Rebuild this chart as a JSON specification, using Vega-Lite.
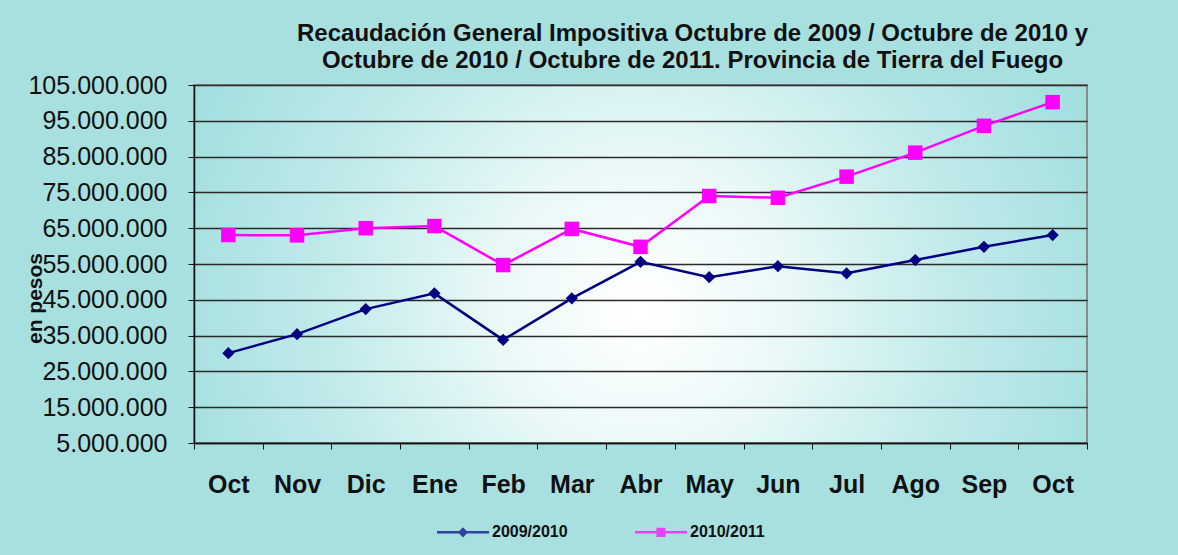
{
  "$schema": "https://vega.github.io/schema/vega-lite/v6.json",
  "autosize": "none",
  "width": 893,
  "height": 358,
  "padding": {"left": 194, "top": 85, "right": 91, "bottom": 112},
  "background": "#a8e0e0",
  "title": {
    "text": ["Recaudación General Impositiva  Octubre de 2009 / Octubre de 2010  y", "Octubre de 2010 / Octubre de 2011. Provincia de Tierra del Fuego"],
    "font": "Liberation Sans",
    "fontSize": 24,
    "fontWeight": "bold",
    "color": "#111111",
    "lineHeight": 27,
    "anchor": "middle",
    "frame": "group",
    "dx": 52,
    "offset": 0
  },
  "data": {
    "values": [
      {"mes": "Oct-09", "serie": "2009/2010", "valor": 30100000},
      {"mes": "Nov-09", "serie": "2009/2010", "valor": 35400000},
      {"mes": "Dic-09", "serie": "2009/2010", "valor": 42400000},
      {"mes": "Ene-10", "serie": "2009/2010", "valor": 46800000},
      {"mes": "Feb-10", "serie": "2009/2010", "valor": 33800000},
      {"mes": "Mar-10", "serie": "2009/2010", "valor": 45400000},
      {"mes": "Abr-10", "serie": "2009/2010", "valor": 55600000},
      {"mes": "May-10", "serie": "2009/2010", "valor": 51300000},
      {"mes": "Jun-10", "serie": "2009/2010", "valor": 54400000},
      {"mes": "Jul-10", "serie": "2009/2010", "valor": 52400000},
      {"mes": "Ago-10", "serie": "2009/2010", "valor": 56100000},
      {"mes": "Sep-10", "serie": "2009/2010", "valor": 59800000},
      {"mes": "Oct-10", "serie": "2009/2010", "valor": 63100000},
      {"mes": "Oct-09", "serie": "2010/2011", "valor": 63100000},
      {"mes": "Nov-09", "serie": "2010/2011", "valor": 63000000},
      {"mes": "Dic-09", "serie": "2010/2011", "valor": 65000000},
      {"mes": "Ene-10", "serie": "2010/2011", "valor": 65600000},
      {"mes": "Feb-10", "serie": "2010/2011", "valor": 54700000},
      {"mes": "Mar-10", "serie": "2010/2011", "valor": 64800000},
      {"mes": "Abr-10", "serie": "2010/2011", "valor": 59800000},
      {"mes": "May-10", "serie": "2010/2011", "valor": 74000000},
      {"mes": "Jun-10", "serie": "2010/2011", "valor": 73500000},
      {"mes": "Jul-10", "serie": "2010/2011", "valor": 79400000},
      {"mes": "Ago-10", "serie": "2010/2011", "valor": 86100000},
      {"mes": "Sep-10", "serie": "2010/2011", "valor": 93600000},
      {"mes": "Oct-10", "serie": "2010/2011", "valor": 100200000}
    ]
  },
  "encoding": {
    "x": {
      "field": "mes",
      "type": "nominal",
      "sort": ["Oct-09", "Nov-09", "Dic-09", "Ene-10", "Feb-10", "Mar-10", "Abr-10", "May-10", "Jun-10", "Jul-10", "Ago-10", "Sep-10", "Oct-10"],
      "scale": {"type": "band", "paddingInner": 0, "paddingOuter": 0},
      "axis": {
        "title": null,
        "labelAngle": 0,
        "labelExpr": "split(datum.label, '-')[0]",
        "labelFont": "Liberation Sans",
        "labelFontSize": 25,
        "labelFontWeight": "bold",
        "labelColor": "#111111",
        "labelPadding": 23,
        "tickBand": "extent",
        "tickSize": 6,
        "tickColor": "#111111",
        "domainColor": "#111111",
        "domainWidth": 1.5,
        "grid": false
      }
    },
    "y": {
      "field": "valor",
      "type": "quantitative",
      "scale": {"domain": [5000000, 105000000], "nice": false, "zero": false},
      "axis": {
        "title": "en pesos",
        "titleFont": "Liberation Sans",
        "titleFontSize": 21,
        "titleFontWeight": "bold",
        "titleColor": "#111111",
        "titleX": -159,
        "titleY": 213,
        "titleAlign": "center",
        "titleBaseline": "middle",
        "values": [5000000, 15000000, 25000000, 35000000, 45000000, 55000000, 65000000, 75000000, 85000000, 95000000, 105000000],
        "labelExpr": "replace(replace(format(datum.value, ',d'), ',', '.'), ',', '.')",
        "labelFont": "Liberation Sans",
        "labelFontSize": 25,
        "labelColor": "#111111",
        "labelPadding": 21,
        "tickSize": 6,
        "tickColor": "#111111",
        "domainColor": "#111111",
        "domainWidth": 1.5,
        "grid": true,
        "gridColor": "#2a2a2a",
        "gridWidth": 1.5
      }
    }
  },
  "layer": [
    {
      "mark": {"type": "point", "filled": false, "size": 0, "strokeWidth": 2.5},
      "encoding": {
        "color": {
          "field": "serie",
          "type": "nominal",
          "scale": {"domain": ["2009/2010", "2010/2011"], "range": ["#000080", "#ff00ff"]},
          "legend": {
            "title": null,
            "orient": "none",
            "legendX": 261,
            "legendY": 439,
            "direction": "horizontal",
            "symbolSize": 144,
            "symbolStrokeWidth": 2.5,
            "labelOffset": 21,
            "columnPadding": 62,
            "labelFont": "Liberation Sans",
            "labelFontSize": 16,
            "labelFontWeight": "bold",
            "labelColor": "#111111"
          }
        },
        "shape": {
          "field": "serie",
          "type": "nominal",
          "scale": {"domain": ["2009/2010", "2010/2011"], "range": ["M-4.33,0L4.33,0M0,-0.55L0.55,0L0,0.55L-0.55,0Z", "M-4.33,0L4.33,0M-0.55,-0.55L0.55,-0.55L0.55,0.55L-0.55,0.55Z"]},
          "legend": {
            "title": null,
            "orient": "none",
            "legendX": 261,
            "legendY": 439,
            "direction": "horizontal",
            "symbolSize": 144,
            "symbolStrokeWidth": 2.5,
            "labelOffset": 21,
            "columnPadding": 62,
            "labelFont": "Liberation Sans",
            "labelFontSize": 16,
            "labelFontWeight": "bold",
            "labelColor": "#111111"
          }
        }
      }
    },
    {
      "mark": {"type": "line", "strokeWidth": 2.5},
      "encoding": {"color": {"field": "serie", "type": "nominal"}}
    },
    {
      "transform": [{"filter": "datum.serie === '2009/2010'"}],
      "mark": {"type": "point", "filled": true, "opacity": 1, "shape": "diamond", "size": 150},
      "encoding": {"color": {"field": "serie", "type": "nominal"}}
    },
    {
      "transform": [{"filter": "datum.serie === '2010/2011'"}],
      "mark": {"type": "point", "filled": true, "opacity": 1, "shape": "square", "size": 210},
      "encoding": {"color": {"field": "serie", "type": "nominal"}}
    }
  ],
  "config": {
    "view": {
      "stroke": "#8a8a8a",
      "strokeWidth": 2,
      "fill": {
        "gradient": "radial",
        "x1": 0.5, "y1": 0.55, "r1": 0,
        "x2": 0.5, "y2": 0.55, "r2": 0.55,
        "stops": [
          {"offset": 0, "color": "#ffffff"},
          {"offset": 0.3, "color": "#eaf8f8"},
          {"offset": 0.65, "color": "#c0eaea"},
          {"offset": 1, "color": "#a2dede"}
        ]
      }
    }
  }
}
